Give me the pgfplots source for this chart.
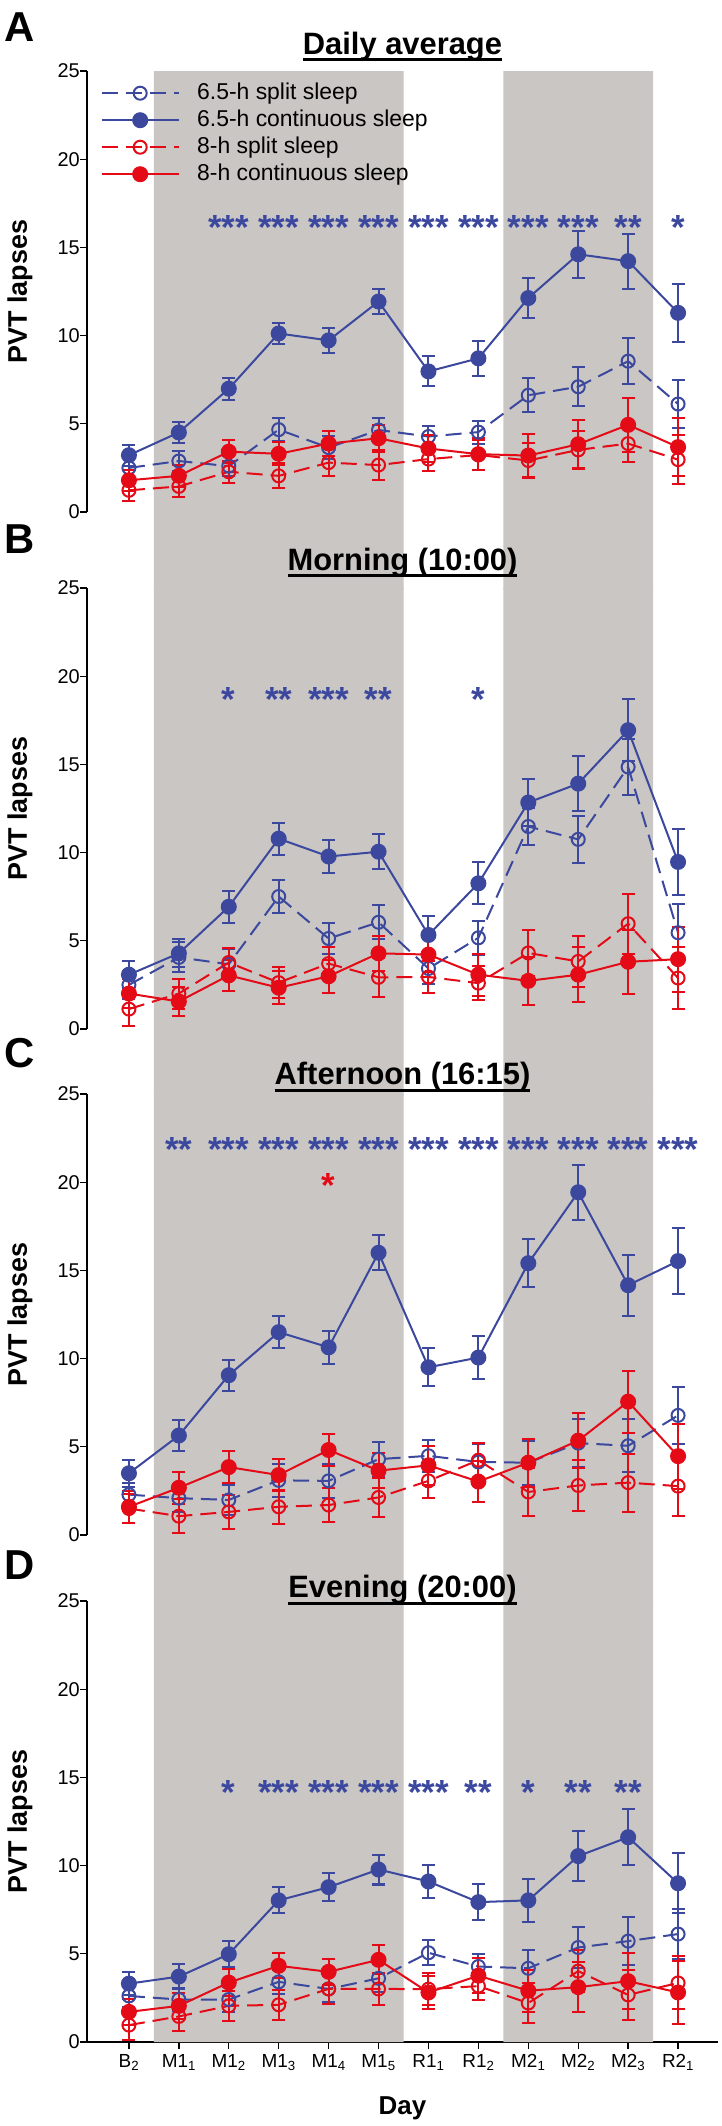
\documentclass[border=0pt]{standalone}
\usepackage{fontspec}
\setmainfont{Liberation Sans}
\usepackage{pgfplots}
\usepackage{pgfplotstable}
\pgfplotsset{compat=1.18}

\definecolor{pblue}{RGB}{59,72,158}
\definecolor{pred}{RGB}{228,10,22}
\definecolor{pgray}{RGB}{201,198,196}

\newcommand\ul[1]{\setbox0=\hbox{#1}\rlap{\rule[-7bp]{\wd0}{2.8bp}}\box0}

% columns: day, 6.5-h split, err, 6.5-h continuous, err, 8-h split, err, 8-h continuous, err
\pgfplotstableread{
x bs bse bc bce rs rse rc rce
0 2.50 0.55 3.22 0.60 1.23 0.63 1.80 0.60
1 2.89 0.55 4.51 0.62 1.45 0.60 2.05 0.62
2 2.60 0.55 6.99 0.62 2.28 0.62 3.42 0.65
3 4.67 0.65 10.12 0.62 2.05 0.70 3.30 0.65
4 3.65 0.65 9.73 0.70 2.80 0.75 3.88 0.70
5 4.65 0.70 11.93 0.72 2.66 0.85 4.18 0.75
6 4.28 0.60 7.97 0.85 3.00 0.70 3.60 0.75
7 4.53 0.65 8.71 1.00 3.23 0.85 3.28 0.90
8 6.62 0.95 12.13 1.15 2.92 1.00 3.20 1.20
9 7.10 1.10 14.61 1.33 3.52 1.10 3.84 1.35
10 8.55 1.30 14.22 1.55 3.88 1.05 4.94 1.55
11 6.12 1.35 11.29 1.65 2.97 1.40 3.68 1.65
}\tabA
\pgfplotstableread{
x bs bse bc bce rs rse rc rce
0 2.50 0.80 3.08 0.80 1.13 0.95 2.01 0.80
1 4.06 0.85 4.29 0.80 2.01 0.85 1.56 0.85
2 3.67 0.85 6.93 0.90 3.77 0.85 3.04 0.90
3 7.51 0.93 10.79 0.90 2.63 0.90 2.34 0.95
4 5.13 0.90 9.78 0.95 3.71 0.95 2.99 0.95
5 6.05 0.97 10.05 1.00 2.93 1.10 4.29 1.00
6 3.43 0.90 5.33 1.10 2.95 0.90 4.22 1.00
7 5.17 0.95 8.26 1.20 2.60 0.95 3.08 1.20
8 11.48 1.07 12.84 1.35 4.31 1.30 2.73 1.37
9 10.75 1.33 13.91 1.55 3.83 1.45 3.08 1.55
10 14.85 1.60 16.94 1.75 5.97 1.70 3.81 1.80
11 5.46 1.60 9.47 1.85 2.89 1.75 3.96 1.85
}\tabB
\pgfplotstableread{
x bs bse bc bce rs rse rc rce
0 2.29 0.65 3.50 0.78 1.50 0.80 1.60 0.90
1 2.09 0.80 5.64 0.88 1.07 0.98 2.68 0.90
2 1.99 0.85 9.06 0.88 1.31 0.96 3.85 0.90
3 3.10 0.95 11.50 0.90 1.60 0.98 3.40 0.92
4 3.07 0.95 10.64 0.95 1.70 0.98 4.82 0.92
5 4.30 1.00 16.00 1.00 2.13 1.12 3.65 1.00
6 4.49 0.90 9.51 1.07 3.07 0.98 3.95 1.10
7 4.14 1.00 10.06 1.20 4.24 1.00 3.03 1.17
8 4.10 1.25 15.41 1.37 2.44 1.34 4.10 1.35
9 5.21 1.37 19.43 1.56 2.81 1.43 5.35 1.55
10 5.06 1.50 14.16 1.74 2.97 1.64 7.56 1.75
11 6.78 1.60 15.53 1.86 2.77 1.70 4.47 1.85
}\tabC
\pgfplotstableread{
x bs bse bc bce rs rse rc rce
0 2.61 0.60 3.31 0.66 0.96 0.82 1.71 0.75
1 2.41 0.65 3.71 0.70 1.45 0.80 2.05 0.75
2 2.41 0.70 4.98 0.75 2.05 0.85 3.37 0.75
3 3.41 0.70 8.03 0.73 2.11 0.85 4.32 0.70
4 3.01 0.75 8.78 0.78 3.01 0.85 3.98 0.75
5 3.61 0.80 9.78 0.85 3.01 0.90 4.66 0.83
6 5.06 0.70 9.10 0.92 3.00 0.90 2.81 0.93
7 4.28 0.70 7.93 1.04 3.17 0.80 3.76 1.00
8 4.18 1.05 8.03 1.22 2.21 1.15 2.91 1.20
9 5.36 1.15 10.54 1.40 4.02 1.20 3.11 1.40
10 5.72 1.35 11.61 1.60 2.67 1.40 3.45 1.60
11 6.12 1.40 9.00 1.70 3.35 1.50 2.81 1.80
}\tabD

\pgfplotsset{
  panel/.style={
    scale only axis, width=631bp, height=441bp,
    xmin=-0.84, xmax=11.8, ymin=0, ymax=25,
    ytick={0,5,...,25},
    axis y line*=left,
    axis line style={-, line width=1.3bp},
    tick align=outside, major tick length=7bp,
    every tick/.style={black, line width=1.3bp},
    yticklabel style={font=\fontsize{20}{20}\selectfont, anchor=east, inner sep=0pt},
    /pgf/number format/assume math mode=true,
    ylabel={PVT lapses},
    every axis y label/.style={at={(axis description cs:-0.0951,0.5)}, rotate=90, anchor=base,
      font=\bfseries\fontsize{27}{27}\selectfont},
    every axis title/.style={at={(0.5,1)}, anchor=base, font=\bfseries\fontsize{31}{31}\selectfont},
    clip=false,
    anchor=south west,
  },
  bandA/.style={fill=pgray, draw=none, forget plot},
  errs/.style={error bars/.cd, y dir=both, y explicit,
    error bar style={solid, line width=2bp},
    error mark options={rotate=90, solid, line width=2bp, mark size=6.5bp}},
  bsplit/.style={pblue, line width=2bp, dash pattern=on 16bp off 8bp,
    mark=o, mark size=6.5bp, mark options={solid, line width=2bp}, errs},
  bcont/.style={pblue, line width=2bp, mark=*, mark size=7bp,
    mark options={solid, fill=pblue}, errs},
  rsplit/.style={pred, line width=2bp, dash pattern=on 16bp off 8bp,
    mark=o, mark size=6.5bp, mark options={solid, line width=2bp}, errs},
  rcont/.style={pred, line width=2bp, mark=*, mark size=7bp,
    mark options={solid, fill=pred}, errs},
  % star nodes: short box so the glyph sits ~14bp above the anchor point
  stars/.style={draw=none, mark=none, forget plot, nodes near coords,
    point meta=explicit symbolic,
    every node near coord/.append style={anchor=center, inner sep=0pt,
      text height=12bp, text depth=0pt,
      text=#1, font=\bfseries\fontsize{35}{35}\selectfont}},
}

\newcommand\series[1]{%
  \addplot[bsplit] table[x=x, y=bs, y error=bse] {#1};
  \addplot[bcont] table[x=x, y=bc, y error=bce] {#1};
  \addplot[rsplit] table[x=x, y=rs, y error=rse] {#1};
  \addplot[rcont] table[x=x, y=rc, y error=rce] {#1};
}
\newcommand\bands[1]{%
  \addplot[bandA] coordinates {(0.5,#1) (5.5,#1) (5.5,25) (0.5,25) (0.5,#1)};
  \addplot[bandA] coordinates {(7.5,#1) (10.5,#1) (10.5,25) (7.5,25) (7.5,#1)};
}

\begin{document}
\begin{tikzpicture}
\useasboundingbox (0,0) rectangle (722bp,-2126bp);
\tikzset{letter/.style={anchor=base west, inner sep=0pt, font=\bfseries\fontsize{42}{42}\selectfont}}

% A
\begin{axis}[panel, at={(87bp,-512bp)}, xtick=\empty, axis x line=none,
  title={\ul{Daily average}}, title style={yshift=17bp},
  legend style={draw=none, fill=none, at={(axis description cs:0.0214,0.9807)},
    anchor=north west, inner sep=0pt, column sep=15bp, row sep=0pt,
    font=\fontsize{23}{23}\selectfont,
    nodes={inner sep=2.5bp, text height=17bp, text depth=5bp}},
  legend cell align=left,
  legend image code/.code={\draw[mark repeat=2, mark phase=2, #1] plot coordinates {(0bp,0bp) (38.5bp,0bp) (77bp,0bp)};},
]
\bands{-4.4}
\series{\tabA}
\legend{6.5-h split sleep, 6.5-h continuous sleep, 8-h split sleep, 8-h continuous sleep}
\addplot[stars=pblue] coordinates {(2,15.8) [***] (3,15.8) [***] (4,15.8) [***] (5,15.8) [***]
  (6,15.8) [***] (7,15.8) [***] (8,15.8) [***] (9,15.8) [***] (10,15.8) [**] (11,15.8) [*]};
\end{axis}

% B
\begin{axis}[panel, at={(87bp,-1029bp)}, xtick=\empty, axis x line=none,
  title={\ul{Morning (10:00)}}, title style={yshift=18bp}]
\bands{-3.8}
\series{\tabB}
\addplot[stars=pblue] coordinates {(2,18.35) [*] (3,18.35) [**] (4,18.35) [***] (5,18.35) [**] (7,18.35) [*]};
\end{axis}

% C
\begin{axis}[panel, at={(87bp,-1535bp)}, xtick=\empty, axis x line=none,
  title={\ul{Afternoon (16:15)}}, title style={yshift=9.5bp}]
\bands{-3.8}
\series{\tabC}
\addplot[stars=pblue] coordinates {(1,21.5) [**] (2,21.5) [***] (3,21.5) [***] (4,21.5) [***]
  (5,21.5) [***] (6,21.5) [***] (7,21.5) [***] (8,21.5) [***] (9,21.5) [***] (10,21.5) [***] (11,21.5) [***]};
\addplot[stars=pred] coordinates {(4,19.5) [*]};
\end{axis}

% D
\begin{axis}[panel, at={(87bp,-2042bp)}, axis x line*=bottom,
  title={\ul{Evening (20:00)}}, title style={yshift=3.4bp},
  xtick={0,...,11},
  xticklabels={B\textsubscript{2}, M1\textsubscript{1}, M1\textsubscript{2}, M1\textsubscript{3},
    M1\textsubscript{4}, M1\textsubscript{5}, R1\textsubscript{1}, R1\textsubscript{2},
    M2\textsubscript{1}, M2\textsubscript{2}, M2\textsubscript{3}, R2\textsubscript{1}},
  xticklabel style={font=\fontsize{19}{19}\selectfont, anchor=base, inner sep=0pt, yshift=-18bp},
  xlabel={Day},
  every axis x label/.style={at={(axis description cs:0.5,0)}, anchor=base, yshift=-72bp,
    font=\bfseries\fontsize{26}{26}\selectfont},
]
\bands{0}
\series{\tabD}
\addplot[stars=pblue] coordinates {(2,13.8) [*] (3,13.8) [***] (4,13.8) [***] (5,13.8) [***]
  (6,13.8) [***] (7,13.8) [**] (8,13.8) [*] (9,13.8) [**] (10,13.8) [**]};
\end{axis}

\node[letter] at (4bp,-41bp) {A};
\node[letter] at (4bp,-553bp) {B};
\node[letter] at (4bp,-1067bp) {C};
\node[letter] at (4bp,-1579bp) {D};
\end{tikzpicture}
\end{document}
